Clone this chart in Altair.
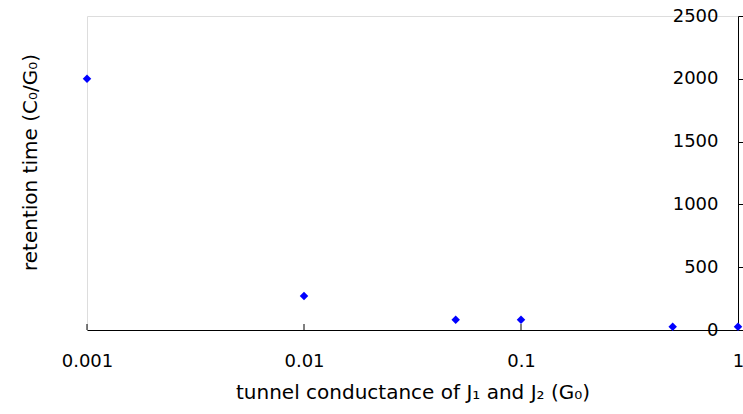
import altair as alt
import pandas as pd

conductance = [0.001, 0.01, 0.05, 0.1, 0.5, 1.0]
retention = [2000, 270, 82, 82, 25, 25]
y_ticks = [0, 500, 1000, 1500, 2000, 2500]
x_ticks = [0.001, 0.01, 0.1, 1]

df = pd.DataFrame({"g": conductance, "t": retention})
ticks_df = pd.DataFrame({"g": x_ticks})

FONT = "DejaVu Sans"

x_scale = alt.Scale(type="log", domain=[0.001, 1])

points = alt.Chart(df).mark_point(
    shape="diamond", filled=True, color="#0000FF", size=72, opacity=1
).encode(
    x=alt.X(
        "g:Q",
        scale=x_scale,
        axis=alt.Axis(
            values=x_ticks,
            format="~g",
            title="tunnel conductance of J₁ and J₂ (G₀)",
            grid=False,
            ticks=False,
            domainColor="#000000",
            labelFlush=False,
            labelPadding=22,
            labelFont=FONT,
            labelFontSize=18,
            labelColor="#000000",
            titleFont=FONT,
            titleFontSize=20,
            titleFontWeight="normal",
            titleColor="#000000",
            titlePadding=12,
        ),
    ),
    y=alt.Y(
        "t:Q",
        scale=alt.Scale(domain=[0, 2500]),
        axis=alt.Axis(
            orient="right",
            values=y_ticks,
            format="d",
            title="retention time (C₀/G₀)",
            grid=False,
            tickSize=5,
            tickColor="#000000",
            domainColor="#000000",
            labelFlush=False,
            labelAlign="right",
            labelBaseline="middle",
            labelPadding=-25,
            labelFont=FONT,
            labelFontSize=18,
            labelColor="#000000",
            titleFont=FONT,
            titleFontSize=20,
            titleFontWeight="normal",
            titleColor="#000000",
            titleAngle=270,
            titleX=-708,
            titleY=146,
            titleAlign="center",
            titleBaseline="middle",
        ),
    ),
)

tick_marks = alt.Chart(ticks_df).mark_rule(color="#000000", strokeWidth=1).encode(
    x=alt.X("g:Q", scale=x_scale),
    y=alt.value(308),
    y2=alt.value(314),
)

chart = alt.layer(tick_marks, points).properties(
    width=651,
    height=314,
    autosize=alt.AutoSizeParams(type="none"),
    padding={"left": 87, "top": 16, "right": 5, "bottom": 84},
).configure_view(
    stroke="#808080", strokeWidth=1
).configure(background="#ffffff")

chart.save("out.html", embed_options={"renderer": "svg", "actions": False})
